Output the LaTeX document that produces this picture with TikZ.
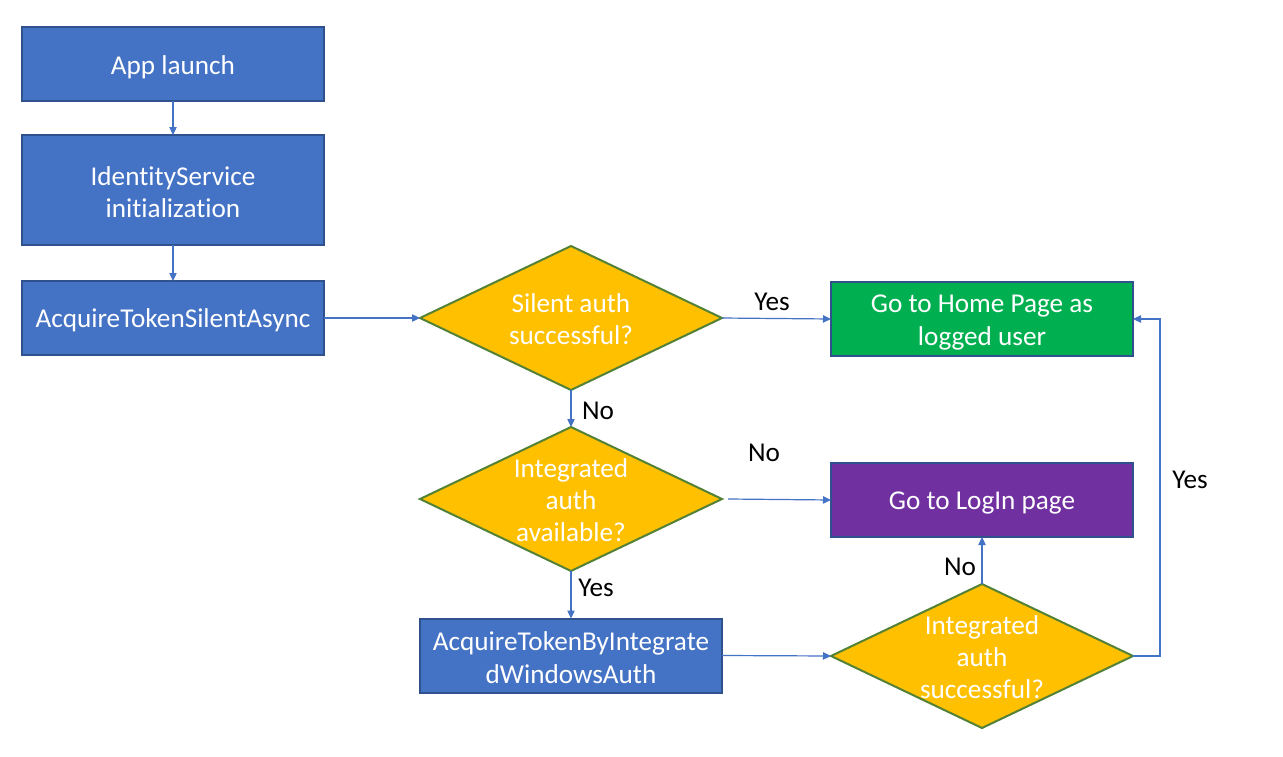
\documentclass[tikz,border=0pt]{standalone}
\usepackage{fontspec}
\setmainfont{Carlito}[Ligatures=NoCommon]
\usetikzlibrary{shapes.geometric,arrows.meta}
\definecolor{boxblue}{HTML}{4472C4}
\definecolor{boxedge}{HTML}{2F528F}
\definecolor{diafill}{HTML}{FFC000}
\definecolor{diaedge}{HTML}{538135}
\definecolor{goodgreen}{HTML}{00B050}
\definecolor{loginpurple}{HTML}{7030A0}
\begin{document}
\begin{tikzpicture}[x=0.75pt,y=-0.75pt,
  every node/.style={font=\fontsize{20.4}{24.3}\selectfont},
  procbox/.style={draw=boxedge, line width=1.5pt, fill=boxblue, rectangle,
    minimum width=226.5pt, minimum height=55.5pt, inner sep=0pt, outer sep=0pt},
  decision/.style={draw=diaedge, line width=1.5pt, fill=diafill, diamond,
    minimum width=226.5pt, minimum height=108pt, inner sep=0pt, outer sep=0pt},
  wtext/.style={text=white, align=center, inner sep=0pt},
  lbl/.style={text=black, inner sep=0pt},
  conn/.style={draw=boxblue, line width=0.9pt, -{Triangle[length=6pt,width=5.5pt]}}
]
\useasboundingbox (0,0) rectangle (1283,757);
\fill[white] (0,0) rectangle (1283,757);

\node[procbox] (app) at (173,64) {};
\node[wtext] (app-t) at ([yshift=-2.5pt]app.center) {App launch};
\node[procbox, minimum height=82.5pt] (ids) at (173,190) {};
\node[wtext] (ids-t) at ([yshift=-1.5pt]ids.center) {IdentityService\\initialization};
\node[procbox] (silent) at (173,318) {};
\node[wtext] (silent-t) at ([yshift=-1.5pt]silent.center) {AcquireTokenSilentAsync};

\node[decision] (d1) at (571,318) {};
\node[wtext] (d1-t) at ([yshift=-0.8pt]d1.center) {Silent auth\\successful?};
\node[decision] (d2) at (571,499) {};
\node[wtext] (d2-t) at ([yshift=-0.8pt]d2.center) {Integrated\\auth\\available?};
\node[procbox] (iwa) at (571,655.5) {};
\node[wtext] (iwa-t) at ([yshift=-1.5pt]iwa.center) {AcquireTokenByIntegrate\\dWindowsAuth};

\node[procbox, fill=goodgreen] (home) at (982,319) {};
\node[wtext] (home-t) at ([yshift=-2.5pt]home.center) {Go to Home Page as\\logged user};
\node[procbox, fill=loginpurple] (login) at (982,500) {};
\node[wtext] (login-t) at ([yshift=-2pt]login.center) {Go to LogIn page};
\node[decision] (d3) at (982,656) {};
\node[wtext] (d3-t) at ([yshift=-0.8pt]d3.center) {Integrated\\auth\\successful?};

\draw[conn] (app) -- (ids);
\draw[conn] (ids) -- (silent);
\draw[conn] (silent) -- (d1.west);
\draw[conn] (d1.east) -- (home.west);
\draw[conn] (d1.south) -- (d2.north);
\draw[conn] ([xshift=4.5pt]d2.east) -- (login.west);
\draw[conn] (d2.south) -- (iwa.north);
\draw[conn] (iwa.east) -- (d3.west);
\draw[conn] (d3.north) -- (login.south);
\draw[conn] (d3.east) -- ++(27,0) |- (home.east);

\node[lbl] (yes1) at (772,302) {Yes};
\node[lbl] (no1) at (598,411) {No};
\node[lbl] (no2) at (764,453) {No};
\node[lbl] (yes2) at (596,588) {Yes};
\node[lbl] (no3) at (960,567) {No};
\node[lbl] (yes3) at (1190,480) {Yes};
\end{tikzpicture}
\end{document}
